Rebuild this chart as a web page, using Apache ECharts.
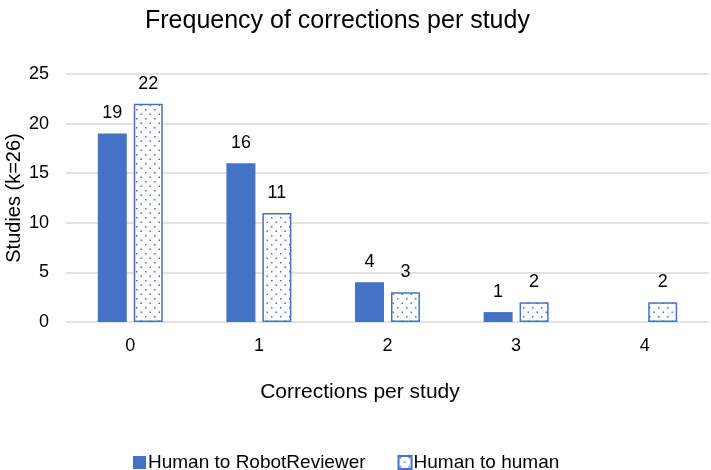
<!DOCTYPE html>
<html><head><meta charset="utf-8">
<script src="https://cdn.jsdelivr.net/npm/echarts@6/dist/echarts.min.js"></script>
<style>html,body{margin:0;padding:0;background:#fff}#c{width:711px;height:470px}</style>
</head><body><div id="c"></div>
<script>
const categories = ['0','1','2','3','4'];
const robotValues = [19, 16, 4, 1, null];
const humanValues = [22, 11, 3, 2, 2];
const seriesNames = ['Human to RobotReviewer', 'Human to human'];

const pc = document.createElement('canvas');
pc.width = 9; pc.height = 9;
const g = pc.getContext('2d');
g.fillStyle = '#fff'; g.fillRect(0,0,9,9);
g.fillStyle = '#4472c4';
g.fillRect(1,1,1.5,1.5); g.fillRect(5.5,5.5,1.5,1.5);
const pattern = {image: pc, repeat: 'repeat'};

const font = 'Liberation Sans, Arial, sans-serif';
const chart = echarts.init(document.getElementById('c'));
chart.setOption({
  animation: false,
  title: {text: 'Frequency of corrections per study', left: 140, top: 4,
    textStyle: {fontFamily: font, fontSize: 25, fontWeight: 'normal', color: '#000'}},
  grid: {left: 66, right: 2, top: 74, bottom: 148, outerBoundsMode: 'none', containLabel: false},
  legend: {top: 448, left: 128, itemWidth: 13, itemHeight: 13, itemGap: 32,
    icon: 'rect',
    textStyle: {fontFamily: font, fontSize: 19, color: '#000', padding: [0,0,0,-3]}},
  xAxis: {type: 'category', data: categories,
    name: 'Corrections per study', nameLocation: 'middle', nameGap: 60,
    nameTextStyle: {fontFamily: font, fontSize: 21, color: '#000', padding: [0,0,0,-55]},
    axisLine: {show: false}, axisTick: {show: false},
    axisLabel: {fontFamily: font, fontSize: 18, color: '#000', margin: 15}},
  yAxis: {type: 'value', min: 0, max: 25, interval: 5,
    name: 'Studies (k=26)', nameLocation: 'middle', nameGap: 42, nameMoveOverlap: false,
    nameTextStyle: {fontFamily: font, fontSize: 20, color: '#000'},
    axisLabel: {fontFamily: font, fontSize: 18, color: '#000', margin: 17},
    splitLine: {lineStyle: {color: '#d9d9d9', width: 1.5}}},
  series: [
    {name: seriesNames[0], type: 'bar', data: robotValues, barWidth: 29, barGap: '24%',
     itemStyle: {color: '#4472c4'},
     label: {show: true, position: 'top', distance: 11, fontFamily: font, fontSize: 18, color: '#000'}},
    {name: seriesNames[1], type: 'bar', data: humanValues, barWidth: 29,
     itemStyle: {color: pattern, borderColor: '#4472c4', borderWidth: 1.5},
     label: {show: true, position: 'top', distance: 11, fontFamily: font, fontSize: 18, color: '#000'}}
  ]
});
</script></body></html>
